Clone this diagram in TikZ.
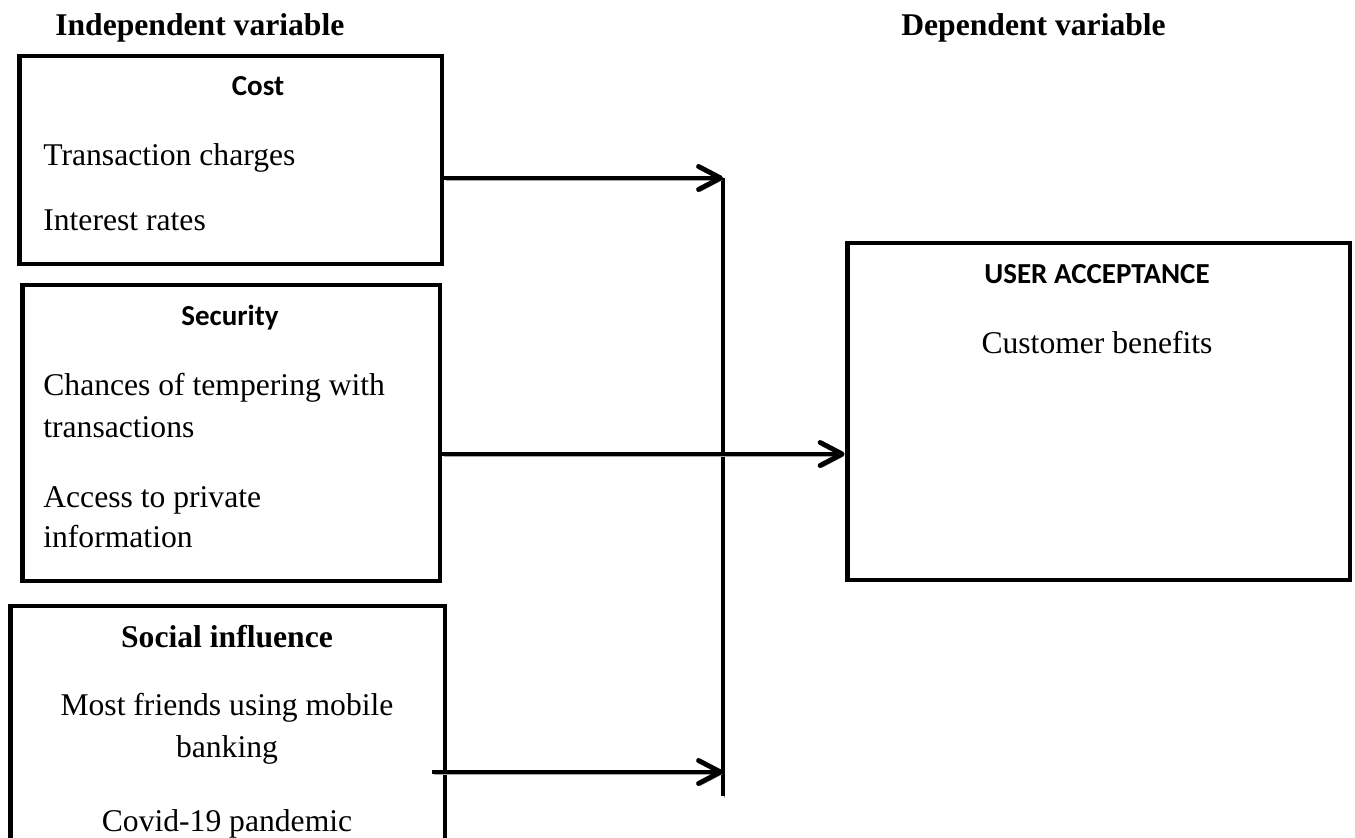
\documentclass[tikz,border=0pt]{standalone}
\usepackage{fontspec}
\setmainfont{Liberation Serif}
\newfontfamily\calibri{Carlito}
\usetikzlibrary{arrows.meta}

\begin{document}
\begin{tikzpicture}[x=0.02cm, y=-0.02cm,
	box/.style={draw, line width=2.8pt, inner sep=0pt},
	txt/.style={anchor=base west, inner sep=0pt, font=\fontsize{18}{21}\selectfont},
	ctxt/.style={txt, anchor=base},
	head/.style={txt, font=\fontsize{18}{21}\selectfont\bfseries},
	chead/.style={ctxt, font=\fontsize{18}{21}\selectfont\bfseries},
	shead/.style={ctxt, font=\fontsize{16.5}{20}\selectfont\calibri\bfseries},
	shadow/.style={preaction={draw=black!35, transform canvas={shift={(0.9pt,-1.2pt)}}}},
	flow/.style={shadow, line width=2.8pt, -{Straight Barb[round, length=4.4mm, width=4.6mm]}},
	bus/.style={shadow, line width=2.4pt}]

% frame %{{{2

	\useasboundingbox (0,0) rectangle (1355,838);

% boxes %{{{2

	\node[box, minimum width=8.46cm, minimum height=4.16cm] (cost) at (230.5,160) {};
	\node[box, minimum width=8.36cm, minimum height=5.92cm] (security) at (231,433) {};
	\node[box, minimum width=8.7cm, minimum height=5.08cm] (social) at (227.5,733) {};
	\node[box, minimum width=10.06cm, minimum height=6.74cm] (accept) at (1098.5,411.5) {};

% headings %{{{2

	\node[head] (indep) at (55,36) {Independent variable};
	\node[head] (dep) at (901,36) {Dependent variable};

% cost %{{{2

	\node[shead] (costtitle) at (258,95) {Cost};
	\node[txt] (charges) at (43,165) {Transaction charges};
	\node[txt] (rates) at (43,230) {Interest rates};

% security %{{{2

	\node[shead] (sectitle) at (230,325) {Security};
	\node[txt] (temper) at (43,395) {Chances of tempering with};
	\node[txt] (temper2) at (43,437) {transactions};
	\node[txt] (private) at (43,507) {Access to private};
	\node[txt] (private2) at (43,547) {information};

% social influence %{{{2

	\node[chead] (soctitle) at (227,647) {Social influence};
	\node[ctxt] (friends) at (227,715) {Most friends using mobile};
	\node[ctxt] (friends2) at (227,757) {banking};
	\node[ctxt] (covid) at (227,831) {Covid-19 pandemic};

% user acceptance %{{{2

	\node[shead] (acctitle) at (1097,283) {USER ACCEPTANCE};
	\node[ctxt] (benefits) at (1097,353) {Customer benefits};

% connectors %{{{2

	\coordinate (bustop) at (723,178);
	\coordinate (busbot) at (723,796);
	\coordinate (socout) at (432,772);

	\draw[bus] (bustop) -- (busbot);
	\draw[flow] (cost.east |- bustop) -- (bustop);
	\draw[flow] (security.east |- 0,454) -- (accept.west |- 0,454);
	\draw[flow] (socout) -- (socout -| bustop);

% closing %{{{2

\end{tikzpicture}
\end{document}
